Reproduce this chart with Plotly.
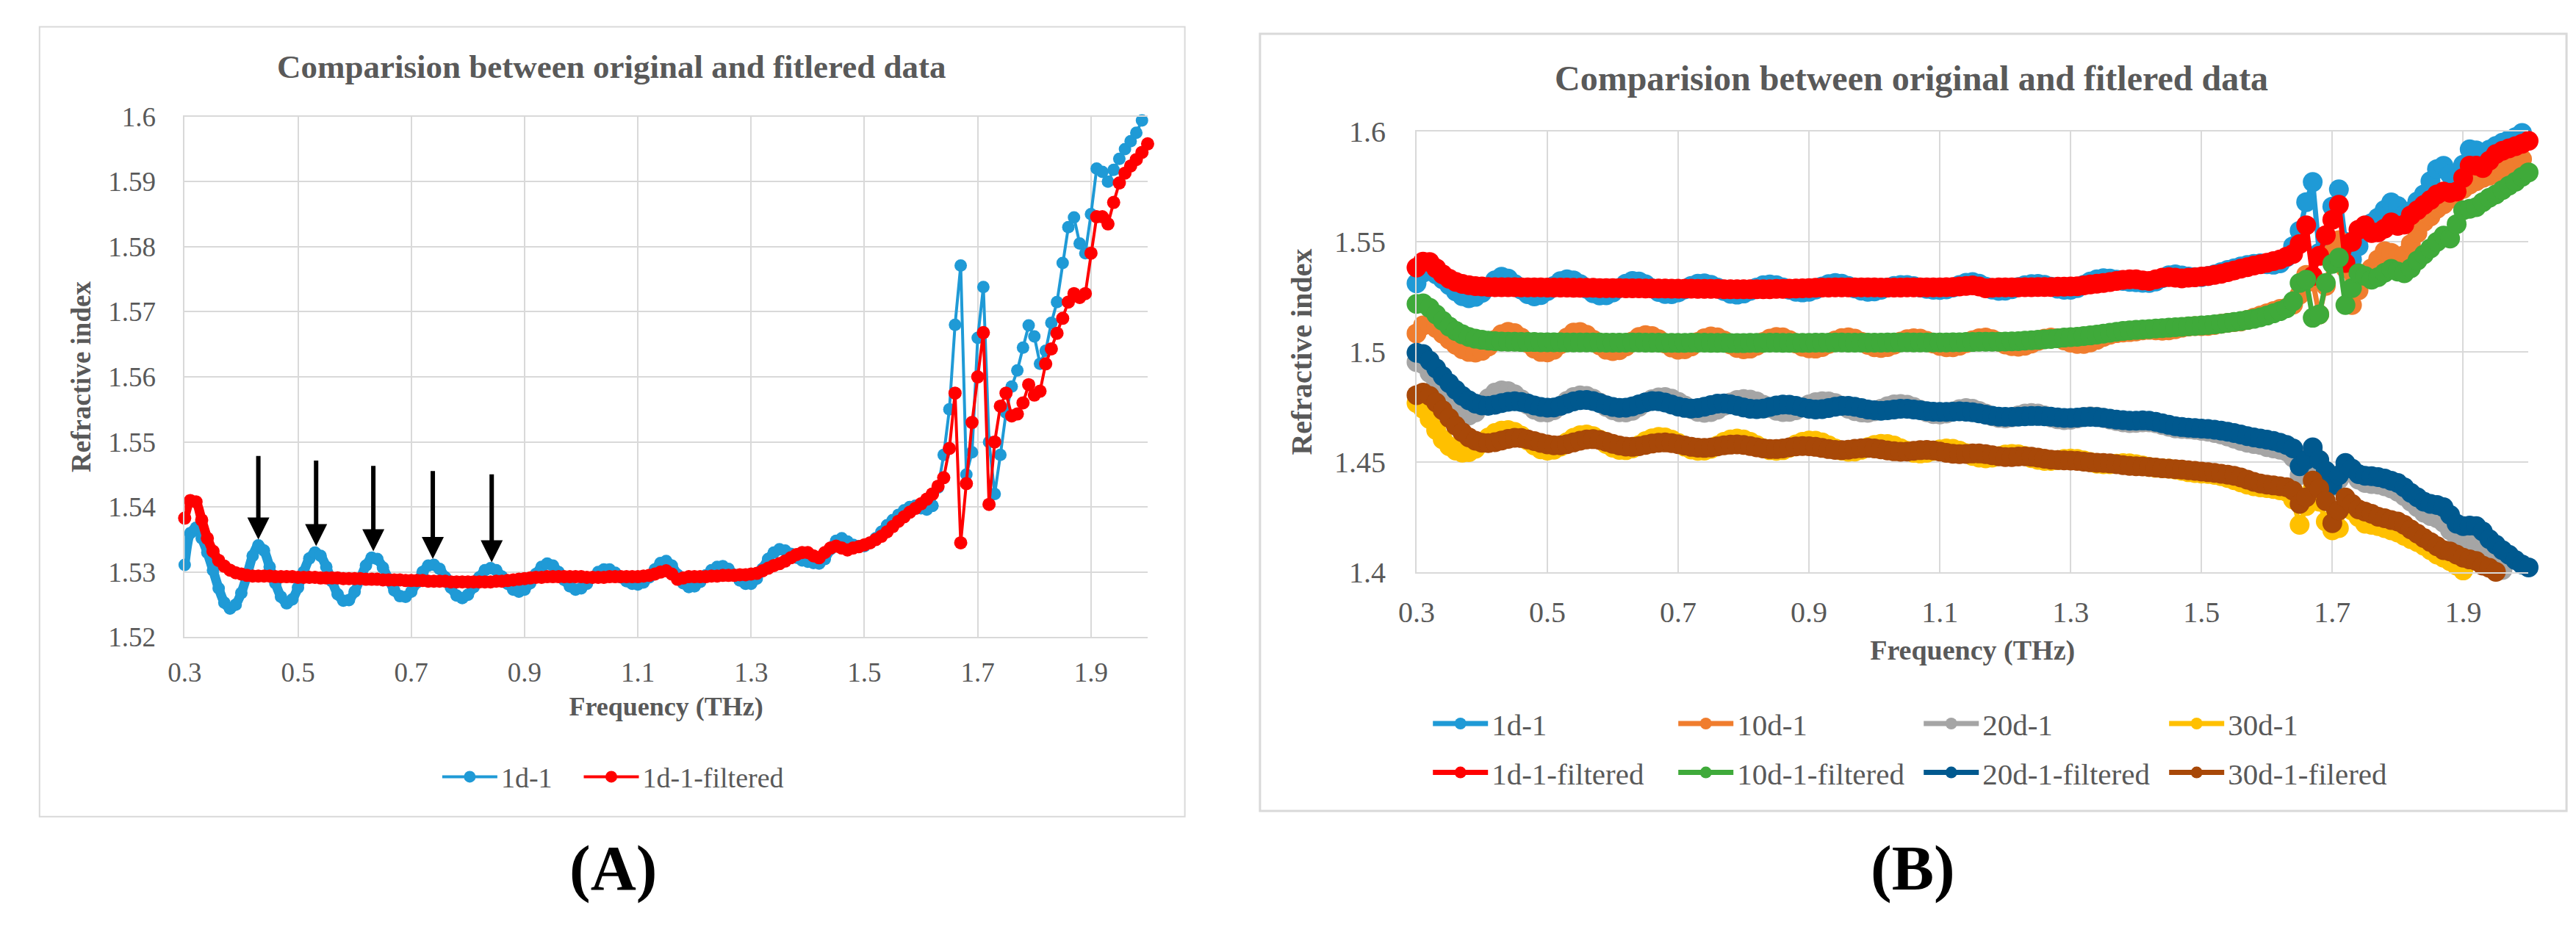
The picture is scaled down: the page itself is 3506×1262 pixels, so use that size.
import plotly.graph_objects as go

W, H = 3506, 1262

# ---------------- data ----------------
freq = [
    0.30, 0.31, 0.32, 0.33, 0.34, 0.35, 0.36, 0.37, 0.38, 0.39,
    0.40, 0.41, 0.42, 0.43, 0.44, 0.45, 0.46, 0.47, 0.48, 0.49,
    0.50, 0.51, 0.52, 0.53, 0.54, 0.55, 0.56, 0.57, 0.58, 0.59,
    0.60, 0.61, 0.62, 0.63, 0.64, 0.65, 0.66, 0.67, 0.68, 0.69,
    0.70, 0.71, 0.72, 0.73, 0.74, 0.75, 0.76, 0.77, 0.78, 0.79,
    0.80, 0.81, 0.82, 0.83, 0.84, 0.85, 0.86, 0.87, 0.88, 0.89,
    0.90, 0.91, 0.92, 0.93, 0.94, 0.95, 0.96, 0.97, 0.98, 0.99,
    1.00, 1.01, 1.02, 1.03, 1.04, 1.05, 1.06, 1.07, 1.08, 1.09,
    1.10, 1.11, 1.12, 1.13, 1.14, 1.15, 1.16, 1.17, 1.18, 1.19,
    1.20, 1.21, 1.22, 1.23, 1.24, 1.25, 1.26, 1.27, 1.28, 1.29,
    1.30, 1.31, 1.32, 1.33, 1.34, 1.35, 1.36, 1.37, 1.38, 1.39,
    1.40, 1.41, 1.42, 1.43, 1.44, 1.45, 1.46, 1.47, 1.48, 1.49,
    1.50, 1.51, 1.52, 1.53, 1.54, 1.55, 1.56, 1.57, 1.58, 1.59,
    1.60, 1.61, 1.62, 1.63, 1.64, 1.65, 1.66, 1.67, 1.68, 1.69,
    1.70, 1.71, 1.72, 1.73, 1.74, 1.75, 1.76, 1.77, 1.78, 1.79,
    1.80, 1.81, 1.82, 1.83, 1.84, 1.85, 1.86, 1.87, 1.88, 1.89,
    1.90, 1.91, 1.92, 1.93, 1.94, 1.95, 1.96, 1.97, 1.98, 1.99,
    2.00,
]

n_1d1 = [
    1.5311, 1.5360, 1.5368, 1.5352, 1.5330, 1.5303, 1.5275, 1.5253, 1.5244, 1.5250,
    1.5268, 1.5295, 1.5325, 1.5341, 1.5333, 1.5308, 1.5283, 1.5262, 1.5252, 1.5258,
    1.5276, 1.5300, 1.5321, 1.5330, 1.5325, 1.5308, 1.5286, 1.5266, 1.5256, 1.5257,
    1.5270, 1.5290, 1.5310, 1.5322, 1.5320, 1.5307, 1.5289, 1.5272, 1.5263, 1.5262,
    1.5270, 1.5284, 1.5300, 1.5310, 1.5311, 1.5305, 1.5292, 1.5276, 1.5264, 1.5260,
    1.5265, 1.5277, 1.5292, 1.5303, 1.5306, 1.5303, 1.5293, 1.5282, 1.5273, 1.5270,
    1.5273, 1.5283, 1.5297, 1.5308, 1.5313, 1.5310, 1.5300, 1.5288, 1.5278, 1.5273,
    1.5275, 1.5282, 1.5292, 1.5300, 1.5304, 1.5304, 1.5299, 1.5292, 1.5286, 1.5282,
    1.5281, 1.5284, 1.5292, 1.5304, 1.5314, 1.5317, 1.5310, 1.5296, 1.5283, 1.5277,
    1.5278, 1.5285, 1.5295, 1.5303, 1.5308, 1.5309, 1.5305, 1.5296, 1.5287, 1.5282,
    1.5282, 1.5290, 1.5305, 1.5320, 1.5330, 1.5335, 1.5333, 1.5328, 1.5322, 1.5318,
    1.5316, 1.5314, 1.5313, 1.5320, 1.5335, 1.5348, 1.5352, 1.5347, 1.5342, 1.5340,
    1.5340, 1.5345, 1.5352, 1.5362, 1.5372, 1.5380, 1.5388, 1.5395, 1.5400, 1.5402,
    1.5398, 1.5396, 1.5402, 1.5430, 1.5480, 1.5550, 1.5680, 1.5771, 1.5450, 1.5484,
    1.5660, 1.5738, 1.5500, 1.5420, 1.5480, 1.5545, 1.5585, 1.5610, 1.5645, 1.5679,
    1.5662, 1.5620, 1.5640, 1.5683, 1.5715, 1.5775, 1.5830, 1.5845, 1.5805, 1.5790,
    1.5850, 1.5920, 1.5915, 1.5900, 1.5918, 1.5935, 1.5950, 1.5962, 1.5975, 1.5994,
]

n_1d1_filtered = [
    1.5383, 1.5410, 1.5408, 1.5380, 1.5352, 1.5332, 1.5318, 1.5309, 1.5303, 1.5299,
    1.5297, 1.5295, 1.5294, 1.5294, 1.5294, 1.5294, 1.5293, 1.5293, 1.5293, 1.5293,
    1.5292, 1.5292, 1.5292, 1.5292, 1.5291, 1.5291, 1.5291, 1.5291, 1.5290, 1.5290,
    1.5290, 1.5290, 1.5289, 1.5289, 1.5289, 1.5288, 1.5288, 1.5288, 1.5288, 1.5287,
    1.5287, 1.5287, 1.5287, 1.5286, 1.5286, 1.5286, 1.5286, 1.5285, 1.5285, 1.5285,
    1.5285, 1.5285, 1.5285, 1.5285, 1.5285, 1.5286, 1.5286, 1.5287, 1.5288, 1.5289,
    1.5290, 1.5291, 1.5292, 1.5292, 1.5293, 1.5293, 1.5293, 1.5293, 1.5293, 1.5293,
    1.5293, 1.5292, 1.5292, 1.5292, 1.5292, 1.5293, 1.5293, 1.5293, 1.5293, 1.5293,
    1.5293, 1.5294, 1.5295, 1.5297, 1.5300, 1.5302, 1.5297, 1.5289, 1.5291, 1.5293,
    1.5293, 1.5293, 1.5293, 1.5294, 1.5294, 1.5295, 1.5295, 1.5295, 1.5296, 1.5296,
    1.5297, 1.5298, 1.5302, 1.5306, 1.5310, 1.5313, 1.5317, 1.5322, 1.5327, 1.5330,
    1.5330, 1.5325, 1.5322, 1.5330, 1.5337, 1.5340, 1.5337, 1.5334, 1.5337, 1.5339,
    1.5342, 1.5345, 1.5350, 1.5355, 1.5362, 1.5370, 1.5378, 1.5385, 1.5392, 1.5398,
    1.5405, 1.5412, 1.5420, 1.5432, 1.5445, 1.5490, 1.5575, 1.5345, 1.5436, 1.5530,
    1.5600, 1.5668, 1.5404, 1.5500, 1.5555, 1.5575, 1.5540, 1.5543, 1.5560, 1.5588,
    1.5572, 1.5578, 1.5620, 1.5643, 1.5667, 1.5690, 1.5715, 1.5728, 1.5722, 1.5728,
    1.5790, 1.5846, 1.5846, 1.5835, 1.5868, 1.5898, 1.5913, 1.5924, 1.5934, 1.5945,
    1.5958,
]

n_10d1 = [
    1.5084, 1.5120, 1.5125, 1.5108, 1.5082, 1.5056, 1.5032, 1.5012, 1.5000, 1.4997,
    1.5005, 1.5025, 1.5055, 1.5080, 1.5091, 1.5085, 1.5065, 1.5040, 1.5015, 1.5000,
    1.4998, 1.5010, 1.5035, 1.5065, 1.5088, 1.5090, 1.5078, 1.5055, 1.5030, 1.5010,
    1.5004, 1.5008, 1.5025, 1.5048, 1.5068, 1.5076, 1.5072, 1.5058, 1.5038, 1.5020,
    1.5010, 1.5012, 1.5025, 1.5045, 1.5062, 1.5070, 1.5066, 1.5052, 1.5034, 1.5018,
    1.5012, 1.5015, 1.5028, 1.5045, 1.5060, 1.5068, 1.5066, 1.5054, 1.5038, 1.5024,
    1.5016, 1.5015, 1.5022, 1.5036, 1.5052, 1.5063, 1.5066, 1.5060, 1.5046, 1.5032,
    1.5021, 1.5018, 1.5022, 1.5033, 1.5047, 1.5058, 1.5062, 1.5060, 1.5050, 1.5038,
    1.5027, 1.5021, 1.5021, 1.5028, 1.5040, 1.5053, 1.5062, 1.5065, 1.5058, 1.5046,
    1.5034, 1.5026, 1.5024, 1.5028, 1.5038, 1.5050, 1.5060, 1.5065, 1.5062, 1.5052,
    1.5042, 1.5036, 1.5036, 1.5043, 1.5055, 1.5068, 1.5078, 1.5085, 1.5088, 1.5090,
    1.5093, 1.5098, 1.5100, 1.5098, 1.5096, 1.5098, 1.5103, 1.5110, 1.5115, 1.5117,
    1.5117, 1.5118, 1.5122, 1.5128, 1.5132, 1.5135, 1.5138, 1.5145, 1.5155, 1.5165,
    1.5175, 1.5185, 1.5195, 1.5200, 1.5215, 1.5260, 1.5350, 1.5320, 1.5170, 1.5300,
    1.5450, 1.5507, 1.5380, 1.5213, 1.5280, 1.5340, 1.5380, 1.5420, 1.5457, 1.5450,
    1.5430, 1.5440, 1.5490, 1.5540, 1.5590, 1.5615, 1.5650, 1.5670, 1.5695, 1.5725,
    1.5740, 1.5760, 1.5775, 1.5790, 1.5800, 1.5815, 1.5830, 1.5845, 1.5860, 1.5875,
]

n_10d1_filtered = [
    1.5218, 1.5220, 1.5200, 1.5170, 1.5141, 1.5115, 1.5095, 1.5080, 1.5068, 1.5060,
    1.5055, 1.5051, 1.5049, 1.5047, 1.5046, 1.5046, 1.5045, 1.5045, 1.5045, 1.5044,
    1.5044, 1.5044, 1.5044, 1.5043, 1.5043, 1.5043, 1.5043, 1.5043, 1.5043, 1.5042,
    1.5042, 1.5042, 1.5042, 1.5043, 1.5043, 1.5042, 1.5042, 1.5042, 1.5041, 1.5041,
    1.5041, 1.5041, 1.5042, 1.5042, 1.5042, 1.5041, 1.5041, 1.5041, 1.5040, 1.5040,
    1.5040, 1.5041, 1.5041, 1.5041, 1.5042, 1.5042, 1.5041, 1.5041, 1.5041, 1.5041,
    1.5041, 1.5042, 1.5042, 1.5042, 1.5043, 1.5043, 1.5042, 1.5042, 1.5042, 1.5042,
    1.5042, 1.5042, 1.5043, 1.5043, 1.5043, 1.5044, 1.5043, 1.5043, 1.5043, 1.5043,
    1.5043, 1.5043, 1.5044, 1.5044, 1.5045, 1.5045, 1.5046, 1.5046, 1.5046, 1.5046,
    1.5047, 1.5048, 1.5049, 1.5051, 1.5053, 1.5055, 1.5057, 1.5059, 1.5062, 1.5065,
    1.5067, 1.5069, 1.5072, 1.5075, 1.5079, 1.5083, 1.5087, 1.5091, 1.5095, 1.5098,
    1.5100, 1.5102, 1.5104, 1.5106, 1.5108, 1.5110, 1.5112, 1.5114, 1.5116, 1.5118,
    1.5120, 1.5122, 1.5125, 1.5128, 1.5132, 1.5136, 1.5140, 1.5145, 1.5150, 1.5157,
    1.5165, 1.5175, 1.5185, 1.5198, 1.5230, 1.5313, 1.5328, 1.5155, 1.5170, 1.5313,
    1.5400, 1.5428, 1.5213, 1.5290, 1.5357, 1.5345, 1.5328, 1.5340, 1.5360, 1.5377,
    1.5365, 1.5357, 1.5380, 1.5415, 1.5442, 1.5470, 1.5500, 1.5528, 1.5515, 1.5580,
    1.5643, 1.5650, 1.5657, 1.5680, 1.5700, 1.5715, 1.5735, 1.5755, 1.5772, 1.5795,
    1.5815,
]

n_20d1 = [
    1.4954, 1.4945, 1.4905, 1.4855, 1.4805, 1.4765, 1.4732, 1.4714, 1.4711, 1.4725,
    1.4755, 1.4790, 1.4815, 1.4825, 1.4822, 1.4808, 1.4785, 1.4760, 1.4738, 1.4726,
    1.4725, 1.4735, 1.4755, 1.4778, 1.4795, 1.4803, 1.4800, 1.4788, 1.4770, 1.4750,
    1.4735, 1.4726, 1.4725, 1.4733, 1.4750, 1.4770, 1.4785, 1.4794, 1.4795, 1.4788,
    1.4774, 1.4757, 1.4740, 1.4728, 1.4724, 1.4727, 1.4738, 1.4755, 1.4770, 1.4782,
    1.4786, 1.4784, 1.4775, 1.4760, 1.4745, 1.4733, 1.4727, 1.4728, 1.4735, 1.4748,
    1.4762, 1.4772, 1.4776, 1.4775, 1.4768, 1.4756, 1.4742, 1.4731, 1.4725, 1.4724,
    1.4730, 1.4742, 1.4754, 1.4762, 1.4764, 1.4760, 1.4750, 1.4738, 1.4726, 1.4718,
    1.4716, 1.4720, 1.4730, 1.4740, 1.4745, 1.4742, 1.4732, 1.4720, 1.4708, 1.4700,
    1.4698, 1.4703, 1.4712, 1.4720, 1.4723, 1.4720, 1.4712, 1.4702, 1.4694, 1.4690,
    1.4692, 1.4698, 1.4705, 1.4708, 1.4706, 1.4700, 1.4693, 1.4686, 1.4680, 1.4677,
    1.4678, 1.4680, 1.4680, 1.4676, 1.4668, 1.4660, 1.4653, 1.4650, 1.4649, 1.4646,
    1.4642, 1.4638, 1.4632, 1.4625, 1.4616, 1.4606, 1.4596, 1.4588, 1.4582, 1.4578,
    1.4568, 1.4562, 1.4556, 1.4548, 1.4520, 1.4440, 1.4470, 1.4555, 1.4510, 1.4460,
    1.4390, 1.4420, 1.4480, 1.4450, 1.4420, 1.4405, 1.4400, 1.4398, 1.4390, 1.4380,
    1.4365, 1.4345, 1.4320, 1.4295, 1.4270, 1.4255, 1.4245, 1.4225, 1.4190, 1.4160,
    1.4150, 1.4140, 1.4120, 1.4090, 1.4065, 1.4040, 1.4010, 1.3990,
]

n_20d1_filtered = [
    1.4996, 1.4990, 1.4960, 1.4925, 1.4890, 1.4858, 1.4828, 1.4800, 1.4780, 1.4765,
    1.4757, 1.4755, 1.4760, 1.4768, 1.4774, 1.4776, 1.4773, 1.4766, 1.4757, 1.4750,
    1.4747, 1.4748, 1.4755, 1.4765, 1.4775, 1.4781, 1.4782, 1.4777, 1.4768, 1.4758,
    1.4750, 1.4746, 1.4747, 1.4753, 1.4762, 1.4771, 1.4777, 1.4776, 1.4770, 1.4761,
    1.4752, 1.4746, 1.4743, 1.4745, 1.4751, 1.4759, 1.4765, 1.4766, 1.4762, 1.4755,
    1.4748, 1.4742, 1.4740, 1.4743, 1.4750, 1.4757, 1.4761, 1.4760, 1.4755, 1.4748,
    1.4742, 1.4739, 1.4740, 1.4745, 1.4751, 1.4755, 1.4755, 1.4751, 1.4745, 1.4739,
    1.4735, 1.4733, 1.4735, 1.4739, 1.4742, 1.4742, 1.4739, 1.4735, 1.4731, 1.4729,
    1.4728, 1.4728, 1.4729, 1.4730, 1.4729, 1.4726, 1.4721, 1.4715, 1.4710, 1.4706,
    1.4705, 1.4705, 1.4706, 1.4708, 1.4709, 1.4709, 1.4708, 1.4706, 1.4703, 1.4700,
    1.4700, 1.4702, 1.4704, 1.4705, 1.4704, 1.4701, 1.4697, 1.4693, 1.4690, 1.4688,
    1.4688, 1.4689, 1.4688, 1.4683, 1.4676, 1.4669, 1.4663, 1.4659, 1.4656, 1.4654,
    1.4652, 1.4650, 1.4647, 1.4643, 1.4638, 1.4632, 1.4625, 1.4618, 1.4612, 1.4607,
    1.4602, 1.4596, 1.4588, 1.4578, 1.4562, 1.4481, 1.4510, 1.4567, 1.4509, 1.4460,
    1.4395, 1.4440, 1.4496, 1.4470, 1.4445, 1.4438, 1.4436, 1.4432, 1.4425, 1.4415,
    1.4405, 1.4385, 1.4360, 1.4340, 1.4320, 1.4310, 1.4305, 1.4295, 1.4260, 1.4220,
    1.4209, 1.4212, 1.4209, 1.4185, 1.4150, 1.4125, 1.4100, 1.4079, 1.4055, 1.4035,
    1.4022,
]

n_30d1 = [
    1.4768, 1.4742, 1.4695, 1.4645, 1.4603, 1.4572, 1.4552, 1.4543, 1.4545, 1.4560,
    1.4585, 1.4612, 1.4632, 1.4643, 1.4645, 1.4637, 1.4620, 1.4598, 1.4575, 1.4558,
    1.4552, 1.4556, 1.4570, 1.4590, 1.4610, 1.4622, 1.4625, 1.4618, 1.4602, 1.4582,
    1.4565, 1.4555, 1.4554, 1.4562, 1.4577, 1.4595, 1.4608, 1.4614, 1.4612, 1.4602,
    1.4587, 1.4570, 1.4557, 1.4551, 1.4552, 1.4560, 1.4575, 1.4592, 1.4603, 1.4607,
    1.4603, 1.4592, 1.4577, 1.4563, 1.4554, 1.4551, 1.4554, 1.4565, 1.4580, 1.4592,
    1.4598, 1.4597, 1.4589, 1.4576, 1.4562, 1.4552, 1.4547, 1.4548, 1.4556, 1.4568,
    1.4578, 1.4583, 1.4582, 1.4575, 1.4563, 1.4551, 1.4542, 1.4539, 1.4542, 1.4550,
    1.4558, 1.4562, 1.4560, 1.4552, 1.4540, 1.4528, 1.4520, 1.4517, 1.4520, 1.4527,
    1.4534, 1.4537, 1.4535, 1.4528, 1.4518, 1.4510, 1.4505, 1.4505, 1.4509, 1.4514,
    1.4516, 1.4514, 1.4508, 1.4500, 1.4493, 1.4490, 1.4490, 1.4493, 1.4495, 1.4494,
    1.4490, 1.4484, 1.4478, 1.4474, 1.4472, 1.4470, 1.4466, 1.4460, 1.4454, 1.4450,
    1.4448, 1.4446, 1.4442, 1.4436, 1.4428, 1.4418, 1.4408, 1.4398, 1.4390, 1.4385,
    1.4382, 1.4378, 1.4372, 1.4365, 1.4330, 1.4215, 1.4300, 1.4380, 1.4320, 1.4230,
    1.4190, 1.4200, 1.4300, 1.4280, 1.4250, 1.4220, 1.4215, 1.4209, 1.4200, 1.4190,
    1.4180, 1.4165, 1.4150, 1.4137, 1.4120, 1.4100, 1.4080, 1.4066, 1.4050, 1.4030,
    1.4008, 1.3995,
]

n_30d1_filtered = [
    1.4804, 1.4815, 1.4800, 1.4770, 1.4735, 1.4700, 1.4665, 1.4635, 1.4612, 1.4597,
    1.4588, 1.4586, 1.4590, 1.4598, 1.4605, 1.4610, 1.4609, 1.4603, 1.4595, 1.4587,
    1.4580, 1.4576, 1.4576, 1.4581, 1.4589, 1.4597, 1.4603, 1.4604, 1.4600, 1.4592,
    1.4583, 1.4575, 1.4570, 1.4569, 1.4572, 1.4578, 1.4584, 1.4588, 1.4589, 1.4586,
    1.4581, 1.4575, 1.4569, 1.4565, 1.4564, 1.4566, 1.4571, 1.4576, 1.4579, 1.4580,
    1.4578, 1.4573, 1.4567, 1.4562, 1.4559, 1.4559, 1.4562, 1.4567, 1.4571, 1.4573,
    1.4572, 1.4569, 1.4564, 1.4559, 1.4555, 1.4554, 1.4556, 1.4560, 1.4563, 1.4564,
    1.4562, 1.4558, 1.4553, 1.4549, 1.4547, 1.4548, 1.4551, 1.4554, 1.4555, 1.4553,
    1.4548, 1.4542, 1.4538, 1.4536, 1.4537, 1.4539, 1.4539, 1.4536, 1.4531, 1.4526,
    1.4523, 1.4523, 1.4525, 1.4526, 1.4524, 1.4520, 1.4515, 1.4511, 1.4509, 1.4508,
    1.4507, 1.4505, 1.4502, 1.4499, 1.4497, 1.4496, 1.4494, 1.4490, 1.4486, 1.4483,
    1.4481, 1.4480, 1.4478, 1.4475, 1.4472, 1.4470, 1.4468, 1.4466, 1.4463, 1.4460,
    1.4457, 1.4454, 1.4451, 1.4447, 1.4443, 1.4438, 1.4430, 1.4420, 1.4410, 1.4403,
    1.4398, 1.4394, 1.4390, 1.4386, 1.4370, 1.4310, 1.4340, 1.4416, 1.4380, 1.4323,
    1.4223, 1.4280, 1.4339, 1.4310, 1.4285, 1.4275, 1.4265, 1.4252, 1.4245, 1.4237,
    1.4230, 1.4215, 1.4194, 1.4175, 1.4155, 1.4137, 1.4118, 1.4100, 1.4094, 1.4080,
    1.4066, 1.4058, 1.4051, 1.4030, 1.4020, 1.4002,
]

x_ticks = [0.3, 0.5, 0.7, 0.9, 1.1, 1.3, 1.5, 1.7, 1.9]
x_tick_text = ["0.3", "0.5", "0.7", "0.9", "1.1", "1.3", "1.5", "1.7", "1.9"]
yA_ticks = [1.52, 1.53, 1.54, 1.55, 1.56, 1.57, 1.58, 1.59, 1.60]
yA_tick_text = ["1.52", "1.53", "1.54", "1.55", "1.56", "1.57", "1.58", "1.59", "1.6"]
yB_ticks = [1.40, 1.45, 1.50, 1.55, 1.60]
yB_tick_text = ["1.4", "1.45", "1.5", "1.55", "1.6"]

title_text = "Comparision between original and fitlered data"

# arrows in panel A (frequency, arrow tip value, arrow tail value)
arrow_f = [0.43, 0.532, 0.633, 0.738, 0.842]
arrow_tip = [1.5350, 1.5340, 1.5332, 1.5320, 1.5315]
arrow_top = [1.5480, 1.5473, 1.5465, 1.5457, 1.5452]

# index where panel A switches from the dense, smooth band to the spiky part (f = 1.62)
SPLIT = 132

# ---------------- styling ----------------
FONT = "Liberation Serif"
TXT = "#595959"
GRID = "#D9D9D9"
C_1D = "#1F9AD6"
C_10D = "#F07D2E"
C_20D = "#A5A5A5"
C_30D = "#FFC000"
C_1DF = "#FF0000"
C_10DF = "#3FAA3A"
C_20DF = "#00598F"
C_30DF = "#A84808"


def px_x(p):
    return p / W


def px_y(p):
    return 1 - p / H


fig = go.Figure()

# Panel A: each series as a dense band (low frequencies) + thin-line part (high frequencies)
for name, vals, col, msize, leg in [
    ("1d-1", n_1d1, C_1D, 17, "legend"),
    ("1d-1-filtered", n_1d1_filtered, C_1DF, 18, "legend4"),
]:
    xs = freq[:len(vals)]
    fig.add_trace(go.Scatter(
        x=xs[:SPLIT + 1], y=vals[:SPLIT + 1], name=name, mode="lines+markers",
        line=dict(color=col, width=13, shape="spline", smoothing=0.8),
        marker=dict(color=col, size=msize),
        xaxis="x", yaxis="y", legend=leg, showlegend=False, cliponaxis=False))
    fig.add_trace(go.Scatter(
        x=xs[SPLIT:], y=vals[SPLIT:], name=name, mode="lines+markers",
        line=dict(color=col, width=4), marker=dict(color=col, size=msize),
        xaxis="x", yaxis="y", legend=leg, showlegend=True, cliponaxis=False))

# Panel B
seriesB = [
    ("1d-1", n_1d1, C_1D, "legend2"),
    ("10d-1", n_10d1, C_10D, "legend2"),
    ("20d-1", n_20d1, C_20D, "legend2"),
    ("30d-1", n_30d1, C_30D, "legend2"),
    ("1d-1-filtered", n_1d1_filtered, C_1DF, "legend3"),
    ("10d-1-filtered", n_10d1_filtered, C_10DF, "legend3"),
    ("20d-1-filtered", n_20d1_filtered, C_20DF, "legend3"),
    ("30d-1-filered", n_30d1_filtered, C_30DF, "legend3"),
]
for name, vals, col, leg in seriesB:
    fig.add_trace(go.Scatter(
        x=freq[:len(vals)], y=vals, name=name, mode="lines+markers",
        line=dict(color=col, width=7), marker=dict(color=col, size=27),
        xaxis="x2", yaxis="y2", legend=leg, cliponaxis=False))

axis_common = dict(
    showgrid=True, gridcolor=GRID, gridwidth=2,
    showline=True, linecolor=GRID, linewidth=2,
    zeroline=False, ticks="", tickmode="array",
)

legend_common = dict(orientation="h", xanchor="left", yanchor="middle",
                     bgcolor="rgba(0,0,0,0)", borderwidth=0, itemsizing="trace")

fig.update_layout(
    width=W, height=H,
    margin=dict(l=0, r=0, t=0, b=0),
    paper_bgcolor="white", plot_bgcolor="white",
    font=dict(family=FONT, color=TXT),
    xaxis=dict(
        axis_common, domain=[px_x(228), px_x(1548)], range=[0.3, 2.0],
        tickvals=x_ticks, ticktext=x_tick_text, mirror=True,
        tickfont=dict(size=37, color=TXT), ticklabelstandoff=14,
        title=dict(text="Frequency (THz)", font=dict(size=36, color=TXT, weight="bold"), standoff=14),
        anchor="y",
    ),
    yaxis=dict(
        axis_common, domain=[px_y(876.7), px_y(141.7)], range=[1.52, 1.60],
        tickvals=yA_ticks, ticktext=yA_tick_text, mirror=False,
        tickfont=dict(size=37, color=TXT), ticklabelstandoff=30,
        title=dict(text="Refractive index", font=dict(size=37, color=TXT, weight="bold"), standoff=12),
        anchor="x",
    ),
    xaxis2=dict(
        axis_common, domain=[px_x(1916.6), px_x(3441)], range=[0.3, 2.0],
        tickvals=x_ticks, ticktext=x_tick_text, mirror=True,
        tickfont=dict(size=40, color=TXT), ticklabelstandoff=18,
        title=dict(text="Frequency (THz)", font=dict(size=38, color=TXT, weight="bold"), standoff=16),
        anchor="y2",
    ),
    yaxis2=dict(
        axis_common, domain=[px_y(785), px_y(163)], range=[1.40, 1.60],
        tickvals=yB_ticks, ticktext=yB_tick_text, mirror=False,
        tickfont=dict(size=40, color=TXT), ticklabelstandoff=32,
        title=dict(text="Refractive index", font=dict(size=40, color=TXT, weight="bold"), standoff=18),
        anchor="x2",
    ),
    legend=dict(legend_common, x=px_x(576), y=px_y(1074), itemwidth=75,
                font=dict(size=38, color=TXT)),
    legend4=dict(legend_common, x=px_x(770), y=px_y(1074), itemwidth=75,
                 font=dict(size=38, color=TXT)),
    legend2=dict(legend_common, x=px_x(1934), y=px_y(999), itemwidth=75, entrywidth=244,
                 font=dict(size=41, color=TXT)),
    legend3=dict(legend_common, x=px_x(1934), y=px_y(1068), itemwidth=75, entrywidth=244,
                 font=dict(size=41, color=TXT)),
    showlegend=True,
)

# Panel frames
fig.add_shape(type="rect", xref="paper", yref="paper",
              x0=px_x(29), x1=px_x(1599), y0=px_y(1130), y1=px_y(15),
              line=dict(color=GRID, width=2), fillcolor="rgba(0,0,0,0)", layer="below")
fig.add_shape(type="rect", xref="paper", yref="paper",
              x0=px_x(1702), x1=px_x(3493), y0=px_y(1122), y1=px_y(25),
              line=dict(color=GRID, width=3), fillcolor="rgba(0,0,0,0)", layer="below")

# Titles and captions
fig.add_annotation(text=title_text, xref="paper", yref="paper", x=px_x(813), y=px_y(72),
                   showarrow=False, xanchor="center", yanchor="middle",
                   font=dict(size=45, color=TXT, family=FONT, weight="bold"))
fig.add_annotation(text=title_text, xref="paper", yref="paper", x=px_x(2595), y=px_y(88),
                   showarrow=False, xanchor="center", yanchor="middle",
                   font=dict(size=48, color=TXT, family=FONT, weight="bold"))
fig.add_annotation(text="(A)", xref="paper", yref="paper", x=px_x(815), y=px_y(1203),
                   showarrow=False, xanchor="center", yanchor="middle",
                   font=dict(size=86, color="black", family=FONT, weight="bold"))
fig.add_annotation(text="(B)", xref="paper", yref="paper", x=px_x(2597), y=px_y(1203),
                   showarrow=False, xanchor="center", yanchor="middle",
                   font=dict(size=86, color="black", family=FONT, weight="bold"))

for f, tip, top in zip(arrow_f, arrow_tip, arrow_top):
    fig.add_annotation(x=f, y=tip, ax=f, ay=top, xref="x", yref="y", axref="x", ayref="y",
                       text="", showarrow=True, arrowhead=2, arrowsize=1.0, arrowwidth=6,
                       arrowcolor="black")

fig.write_html("out.html")
